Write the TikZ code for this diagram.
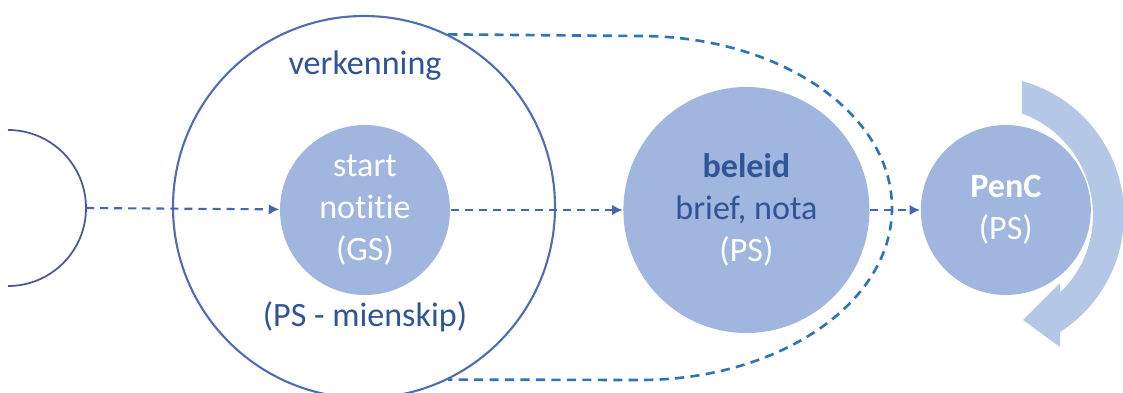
\documentclass[tikz,border=0pt]{standalone}
\usepackage{fontspec}
\setmainfont[Ligatures={NoCommon}]{Carlito}
\usetikzlibrary{positioning,arrows.meta,calc}
\definecolor{bolvul}{HTML}{A0B6DE}
\definecolor{pijlvul}{HTML}{B4C7E7}
\definecolor{tekstblauw}{HTML}{2F5597}
\definecolor{randblauw}{HTML}{4F6DB5}
\definecolor{voorrand}{HTML}{4A5A8E}
\definecolor{stippel}{HTML}{2E75B6}
\definecolor{pijlblauw}{HTML}{4466B5}
\tikzset{
  bol/.style={circle, fill=bolvul, text=white, align=center, inner sep=0pt, minimum size=#1},
  ring/.style={circle, draw=randblauw, line width=0.6pt, inner sep=0pt, minimum size=#1},
  bijschrift/.style={text=tekstblauw},
  flow/.style={draw=pijlblauw, line width=0.6pt, dash pattern=on 2.3pt off 1.7pt,
    -{Latex[length=3pt,width=3pt]}},
  lus/.style={draw=stippel, line width=0.75pt, dash pattern=on 2.6pt off 1.8pt}
}
\begin{document}
\begin{tikzpicture}[font=\fontsize{9.7}{11.9}\selectfont]
  \useasboundingbox (0,0) rectangle (11.23,3.92);
  \clip (0,0) rectangle (11.23,3.92);

  % vorige stap (half zichtbaar)
  \draw[voorrand, line width=0.5pt] (0.08,2.62) arc[start angle=90, end angle=-90, radius=0.78];
  \coordinate (vorigR) at (0.86,1.84);

  % verkenning
  \draw node[ring=3.82cm] (verkN) at (3.64,1.85) {};
  \draw node[bijschrift] (verkT) at (3.65,3.26) {verkenning};
  \draw node[bol=1.70cm] (startN) at (3.65,1.82) {start\\notitie\\(GS)};
  \draw node[bijschrift] (verkP) at (3.65,0.75) {(PS - mienskip)};

  % beleid en PenC
  \draw node[bol=2.46cm, right = 1.72cm of startN] (beleidN)
    {\textcolor{tekstblauw}{\textbf{beleid}}\\\textcolor{tekstblauw}{brief, nota}\\(PS)};
  \draw node[bol=1.70cm, right = 0.50cm of beleidN] (pencN) {\textbf{PenC}\\(PS)};
  \coordinate (kringM) at (9.85,1.77);

  % kringloop om PenC
  \fill[pijlvul] (kringM) ++(74.6:1.39) arc[start angle=74.6, end angle=-57.3, radius=1.39]
    -- (10.60,0.45) -- (10.23,0.72) -- (10.60,1.09)
    -- ($(kringM)+(-46:1.08)$) arc[start angle=-46, end angle=70, radius=1.08] -- cycle;

  % terugkoppeling
  \draw[lus] (verkN.64) -- (6.40,3.56) arc[start angle=90, end angle=-90, x radius=2.52, y radius=1.72]
    -- (verkN.-64);

  % stappen
  \draw[flow] (vorigR) -- (startN);
  \draw[flow] (startN) -- (beleidN);
  \draw[flow] (beleidN) -- (pencN);
\end{tikzpicture}
\end{document}
